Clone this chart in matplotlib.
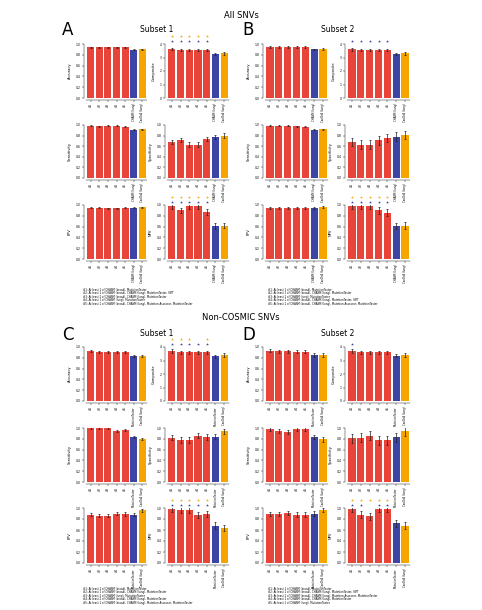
import matplotlib
matplotlib.use('Agg')
import matplotlib.pyplot as plt
import numpy as np

RED = '#e8443a'
BLUE = '#3c45a5'
ORANGE = '#f6a400'

metrics = ['Accuracy', 'Composite', 'Sensitivity', 'Specificity', 'PPV', 'NPV']
labels_top = ['#1', '#2', '#3', '#4', '#5', 'CHASM (lung)', 'CanDrA (lung)']
labels_bottom = ['#1', '#2', '#3', '#4', '#5', 'MutationTaster', 'CanDrA (lung)']

# All SNVs, subset 1
a_acc = [0.94, 0.94, 0.94, 0.94, 0.94, 0.89, 0.90]
a_comp = [3.6, 3.55, 3.55, 3.55, 3.55, 3.25, 3.3]
a_sens = [0.99, 0.98, 0.99, 0.99, 0.97, 0.91, 0.92]
a_spec = [0.68, 0.71, 0.63, 0.63, 0.74, 0.77, 0.80]
a_ppv = [0.95, 0.95, 0.94, 0.94, 0.95, 0.95, 0.96]
a_npv = [0.98, 0.90, 0.98, 0.98, 0.87, 0.61, 0.62]
a_err = [0.01, 0.08, 0.01, 0.04, 0.01, 0.05]

# All SNVs, subset 2
b_acc = [0.94, 0.94, 0.94, 0.94, 0.94, 0.90, 0.91]
b_comp = [3.6, 3.55, 3.55, 3.55, 3.55, 3.25, 3.3]
b_sens = [0.99, 0.99, 0.99, 0.98, 0.97, 0.91, 0.92]
b_spec = [0.68, 0.63, 0.63, 0.71, 0.75, 0.78, 0.81]
b_ppv = [0.94, 0.94, 0.94, 0.95, 0.95, 0.95, 0.96]
b_npv = [0.98, 0.98, 0.98, 0.90, 0.86, 0.61, 0.62]
b_err = [0.015, 0.1, 0.01, 0.08, 0.015, 0.06]

# Non-COSMIC SNVs, subset 1
c_acc = [0.92, 0.90, 0.90, 0.90, 0.90, 0.83, 0.83]
c_comp = [3.7, 3.6, 3.6, 3.6, 3.6, 3.3, 3.4]
c_sens = [1.0, 1.0, 1.0, 0.95, 0.97, 0.83, 0.79]
c_spec = [0.82, 0.78, 0.78, 0.86, 0.83, 0.84, 0.94]
c_ppv = [0.88, 0.86, 0.86, 0.90, 0.89, 0.88, 0.96]
c_npv = [0.98, 0.97, 0.97, 0.87, 0.89, 0.68, 0.64]
c_err = [0.02, 0.12, 0.02, 0.05, 0.03, 0.06]

# Non-COSMIC SNVs, subset 2
d_acc = [0.93, 0.92, 0.92, 0.91, 0.91, 0.85, 0.85]
d_comp = [3.7, 3.6, 3.6, 3.6, 3.6, 3.35, 3.4]
d_sens = [0.99, 0.95, 0.93, 0.99, 0.99, 0.83, 0.79]
d_spec = [0.81, 0.82, 0.86, 0.77, 0.77, 0.83, 0.94]
d_ppv = [0.89, 0.89, 0.91, 0.88, 0.88, 0.90, 0.96]
d_npv = [0.98, 0.88, 0.85, 0.98, 0.98, 0.72, 0.68]
d_err = [0.03, 0.12, 0.04, 0.08, 0.04, 0.06]

# significance marks (1 = marked) vs. blue / orange tools
a_marks = {'Composite': ([1, 1, 1, 1, 1], [1, 1, 1, 1, 1]), 'NPV': ([1, 1, 1, 1, 1], [1, 1, 1, 1, 1])}
b_marks = {'Composite': ([1, 1, 1, 1, 1], [0, 0, 0, 0, 0]), 'NPV': ([1, 1, 1, 1, 1], [1, 1, 1, 1, 1])}
c_marks = {'Composite': ([1, 1, 1, 1, 1], [1, 1, 1, 0, 1]), 'NPV': ([1, 1, 1, 1, 1], [1, 1, 1, 1, 1])}
d_marks = {'Composite': ([1, 0, 0, 0, 0], [0, 0, 0, 0, 0]), 'NPV': ([1, 1, 0, 1, 1], [1, 1, 1, 1, 1])}

legend_a = ['#1: At least 1 of CHASM (broad), MutationTaster',
            '#2: At least 1 of CHASM (broad), CHASM (lung), MutationTaster, SIFT',
            '#3: At least 1 of CHASM (broad), CHASM (lung), MutationTaster',
            '#4: At least 1 of CHASM (lung), MutationTaster',
            '#5: At least 1 of CHASM (broad), CHASM (lung), Mutation Assessor, MutationTaster']
legend_b = ['#1: At least 1 of CHASM (broad), MutationTaster',
            '#2: At least 1 of CHASM (broad), CHASM (lung), MutationTaster',
            '#3: At least 1 of CHASM (lung), MutationTaster',
            '#4: At least 1 of CHASM (broad), CHASM (lung), MutationTaster, SIFT',
            '#5: At least 1 of CHASM (broad), CHASM (lung), Mutation Assessor, MutationTaster']
legend_c = ['#1: At least 1 of CHASM (broad), MutationTaster',
            '#2: At least 1 of CHASM (broad), CHASM (lung), MutationTaster',
            '#3: At least 1 of CHASM (lung), MutationTaster',
            '#4: At least 2 of CHASM (broad), CHASM (lung), MutationTaster',
            '#5: At least 1 of CHASM (broad), CHASM (lung), Mutation Assessor, MutationTaster']
legend_d = ['#1: At least 1 of CHASM (broad), MutationTaster',
            '#2: At least 1 of CHASM (broad), CHASM (lung), MutationTaster, SIFT',
            '#3: At least 1 of CHASM (broad), CHASM (lung), Mutation Assessor, MutationTaster',
            '#4: At least 1 of CHASM (broad), CHASM (lung), MutationTaster',
            '#5: At least 1 of CHASM (lung), MutationTaster']

W, H = 482, 610
fig = plt.figure(figsize=(W / 100, H / 100), dpi=100)


def px_axes(x0, y0, x1, y1):
    return fig.add_axes([x0 / W, 1 - y1 / H, (x1 - x0) / W, (y1 - y0) / H])


def draw_panel(letter, title, series, err, marks, xlabels, legend, cols, rows, legend_xy, letter_xy):
    colors = [RED] * 5 + [BLUE, ORANGE]
    x = np.arange(7)
    for i, m in enumerate(metrics):
        c0, c1 = cols[i % 2]
        r0, r1 = rows[i // 2]
        ax = px_axes(c0, r0, c1, r1)
        # spine position first: it resets the tick objects
        for s in ['top', 'right']:
            ax.spines[s].set_visible(False)
        for s in ['left', 'bottom']:
            ax.spines[s].set_linewidth(0.3)
            ax.spines[s].set_position(('outward', 1.5))
        ax.bar(x, series[i], width=0.82, color=colors)
        ax.errorbar(x, series[i], yerr=err[i], fmt='none', ecolor='#222222',
                    elinewidth=0.5, capsize=0.8, capthick=0.5)
        if m == 'Composite':
            ax.set_ylim(0, 4)
            ax.set_yticks([0, 1, 2, 3, 4])
        else:
            ax.set_ylim(0, 1)
            ticks = np.arange(0, 1.01, 0.2)
            ax.set_yticks(ticks)
            ax.set_yticklabels(['%.1f' % v for v in ticks])
        ax.set_xlim(-0.55, 6.55)
        ax.set_xticks(x)
        ax.set_xticklabels(xlabels, rotation=90)
        ax.tick_params(axis='both', length=1.2, width=0.3, pad=1)
        ax.tick_params(axis='y', labelsize=2.2)
        ax.tick_params(axis='x', labelsize=1.9)
        ax.set_ylabel(m, fontsize=2.6, labelpad=3)
        if m in marks:
            blue_m, orange_m = marks[m]
            tr = ax.get_xaxis_transform()
            for j in range(5):
                if blue_m[j]:
                    ax.plot(j, 1.06, marker='*', ms=2.2, color=BLUE, transform=tr, clip_on=False, mew=0)
                if orange_m[j]:
                    ax.plot(j, 1.14, marker='*', ms=2.2, color=ORANGE, transform=tr, clip_on=False, mew=0)
    lx, ly = letter_xy
    fig.text(lx / W, 1 - ly / H, letter, fontsize=12, ha='left', va='center')
    fig.text((cols[0][1] + cols[1][0]) / 2 / W, 1 - (ly - 1) / H, title, fontsize=5.5, ha='center', va='center')
    tx, ty = legend_xy
    for k, line in enumerate(legend):
        fig.text(tx / W, 1 - (ty + k * 3.4) / H, line, fontsize=1.9, ha='left', va='center')


rows_top = [(44, 98), (125, 178), (205, 259)]
rows_bot = [(347, 401), (428, 482), (508, 563)]
cols_left = [(86, 147), (167, 229)]
cols_right = [(265, 328), (347, 410)]

fig.text(0.5, 1 - 15 / H, 'All SNVs', fontsize=6, ha='center', va='center')
fig.text(0.5, 1 - 318 / H, 'Non-COSMIC SNVs', fontsize=6, ha='center', va='center')

draw_panel('A', 'Subset 1', [a_acc, a_comp, a_sens, a_spec, a_ppv, a_npv], a_err, a_marks,
           labels_top, legend_a, cols_left, rows_top, (83, 290), (62, 30))
draw_panel('B', 'Subset 2', [b_acc, b_comp, b_sens, b_spec, b_ppv, b_npv], b_err, b_marks,
           labels_top, legend_b, cols_right, rows_top, (268, 290), (242, 30))
draw_panel('C', 'Subset 1', [c_acc, c_comp, c_sens, c_spec, c_ppv, c_npv], c_err, c_marks,
           labels_bottom, legend_c, cols_left, rows_bot, (83, 589), (62, 335))
draw_panel('D', 'Subset 2', [d_acc, d_comp, d_sens, d_spec, d_ppv, d_npv], d_err, d_marks,
           labels_bottom, legend_d, cols_right, rows_bot, (268, 589), (242, 335))

fig.savefig('out.png', dpi=100)
